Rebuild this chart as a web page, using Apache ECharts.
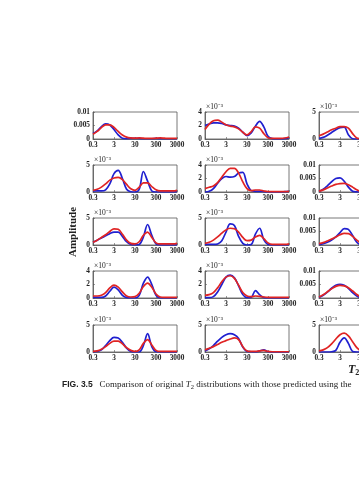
<!DOCTYPE html>
<html><head><meta charset="utf-8">
<script src="https://cdn.jsdelivr.net/npm/echarts@6/dist/echarts.min.js"></script>
<style>html,body{margin:0;padding:0;background:#fff}#c{width:359px;height:480px}</style>
</head><body><div id="c"></div>
<script>
// log10(T2/0.3) sample positions (0 -> 0.3 ms, 4 -> 3000 ms)
const uGrid = [0,0.2,0.4,0.6,0.8,1.0,1.2,1.4,1.6,1.8,2.0,2.2,2.4,2.6,2.8,3.0,3.2,3.4,3.6,3.8,4.0];
const xTickLabels = ['0.3','3','30','300','3000'];
// amplitudes in units of 1e-3
const r1c1Blue = [2.0,3.0,4.6,5.6,5.2,3.5,1.5,0.3,0.1,0.2,0.2,0.2,0.1,0.1,0.1,0.2,0.1,0.1,0.1,0.1,0.1];
const r1c1Red  = [1.8,2.8,4.2,5.2,5.2,4.3,2.8,1.5,0.7,0.4,0.3,0.4,0.3,0.2,0.2,0.3,0.4,0.3,0.2,0.2,0.2];
const r1c2Blue = [2.0,2.2,2.4,2.4,2.3,2.1,2.0,1.9,1.6,1.0,0.5,0.9,1.9,2.6,1.8,0.4,0.05,0,0,0.05,0.2];
const r1c2Red  = [1.4,2.2,2.7,2.8,2.5,2.1,1.9,1.8,1.5,1.0,0.6,1.1,1.8,1.6,0.8,0.2,0.1,0.1,0.1,0.15,0.3];
const r1c3Blue = [0.1,0.3,0.7,1.2,1.7,2.1,2.2,0.8,0.05,0,0,0,0,0,0,0,0,0,0,0,0];
const r1c3Red  = [0.6,0.9,1.3,1.7,2.0,2.3,2.3,2.0,1.0,0.2,0.05,0.05,0.05,0.05,0.05,0.05,0.05,0.05,0.05,0.05,0.05];
const r2c1Blue = [0.2,0.2,0.2,0.4,1.5,3.4,4.0,2.5,0.5,0.05,0,0.5,3.8,2.0,0.2,0,0,0,0,0,0.1];
const r2c1Red  = [0.3,0.5,0.9,1.5,2.2,2.6,2.7,2.3,1.4,0.6,0.3,0.9,1.7,1.7,1.0,0.4,0.2,0.2,0.2,0.2,0.3];
const r2c2Blue = [0,0.1,0.5,1.3,2.0,2.3,2.2,2.3,2.8,2.9,1.2,0.2,0.1,0.1,0.05,0,0,0,0,0.05,0.1];
const r2c2Red  = [0.5,0.7,0.9,1.4,2.2,3.0,3.5,3.5,2.8,1.5,0.5,0.2,0.3,0.3,0.15,0.05,0.05,0.05,0.05,0.05,0.1];
const r2c3Blue = [0.2,1.0,2.3,3.8,5.0,5.2,4.0,1.8,0.3,0.05,0,0,0,0,0,0,0,0,0,0,0];
const r2c3Red  = [0.3,0.8,1.5,2.2,2.8,3.1,3.2,2.7,1.8,0.8,0.2,0.05,0,0,0,0,0,0,0,0,0];
const r3c1Blue = [0.5,0.9,1.3,1.7,2.1,2.4,2.4,1.6,0.6,0.1,0,0.1,1.5,3.8,1.8,0.2,0,0,0,0,0.05];
const r3c1Red  = [0.5,0.9,1.4,1.9,2.5,3.0,2.9,2.0,0.9,0.3,0.2,0.6,1.8,2.4,1.4,0.4,0.2,0.2,0.2,0.2,0.3];
const r3c2Blue = [0.1,0.1,0.1,0.2,0.8,2.4,3.9,3.6,1.6,0.3,0,0.1,2.0,3.1,1.0,0.1,0,0,0,0,0.05];
const r3c2Red  = [0.3,0.5,0.9,1.5,2.2,2.8,3.1,3.0,2.4,1.4,0.8,0.9,1.5,1.8,1.2,0.4,0.1,0.1,0.1,0.1,0.2];
const r3c3Blue = [0.2,0.5,1.0,1.8,3.0,4.6,6.1,5.8,3.5,1.0,0.1,0,0,0,0,0,0,0,0,0,0];
const r3c3Red  = [0.5,0.9,1.5,2.2,3.0,3.8,4.3,4.2,3.2,1.8,0.7,0.2,0.05,0.05,0.05,0.05,0.05,0.05,0.05,0.05,0.05];
const r4c1Blue = [0.1,0.1,0.1,0.3,1.0,1.6,1.2,0.4,0.05,0,0,0.4,2.2,3.1,2.0,0.4,0,0,0,0,0];
const r4c1Red  = [0.3,0.3,0.4,0.8,1.5,1.9,1.6,0.9,0.3,0.15,0.2,0.7,1.7,2.2,1.6,0.6,0.15,0.1,0.1,0.1,0.1];
const r4c2Blue = [0.05,0.05,0.2,0.9,2.0,3.1,3.4,3.0,1.8,0.5,0.05,0.1,1.1,0.5,0.05,0,0,0,0,0,0];
const r4c2Red  = [0.4,0.5,0.8,1.5,2.4,3.1,3.3,2.9,1.9,0.8,0.3,0.2,0.3,0.25,0.15,0.1,0.1,0.1,0.1,0.1,0.1];
const r4c3Blue = [0.2,1.0,2.2,3.6,4.7,5.1,4.7,3.6,2.0,0.7,0.1,0,0,0,0,0,0,0,0,0,0];
const r4c3Red  = [0.4,1.2,2.3,3.4,4.3,4.7,4.5,3.8,2.6,1.3,0.4,0.1,0.05,0.05,0.05,0.05,0.05,0.05,0.05,0.05,0.05];
const r5c1Blue = [0.05,0.1,0.4,1.2,2.1,2.7,2.6,1.8,0.7,0.1,0,0,1.2,3.4,1.0,0.05,0,0,0,0,0];
const r5c1Red  = [0.1,0.2,0.5,1.0,1.6,2.0,2.0,1.5,0.8,0.3,0.1,0.4,1.6,2.3,1.3,0.3,0.1,0.1,0.1,0.1,0.1];
const r5c2Blue = [0.2,0.6,1.2,2.0,2.7,3.2,3.4,3.2,2.5,0.9,0.1,0.05,0,0.2,0.4,0.05,0,0,0,0,0];
const r5c2Red  = [0.4,0.7,1.0,1.4,1.8,2.1,2.4,2.6,2.3,1.0,0.2,0.1,0.1,0.2,0.3,0.1,0.05,0.05,0.05,0.05,0.05];
const r5c3Blue = [0,0,0,0.05,0.3,1.8,2.6,1.6,0.1,0,0,0,0,0,0,0,0,0,0,0,0];
const r5c3Red  = [0.2,0.4,0.8,1.5,2.4,3.2,3.5,3.0,1.9,0.8,0.2,0.05,0.05,0.05,0.05,0.05,0.05,0.05,0.05,0.05,0.05];
// y-axis type per panel: 'p01' = 0..0.01, 'e4' = 0..4e-3, 'e5' = 0..5e-3
const panelScales = [
  ['p01','e4','e5'],
  ['e5','e4','p01'],
  ['e5','e5','p01'],
  ['e4','e4','p01'],
  ['e5','e5','e5']
];
const blueData = [[r1c1Blue,r1c2Blue,r1c3Blue],[r2c1Blue,r2c2Blue,r2c3Blue],[r3c1Blue,r3c2Blue,r3c3Blue],[r4c1Blue,r4c2Blue,r4c3Blue],[r5c1Blue,r5c2Blue,r5c3Blue]];
const redData  = [[r1c1Red,r1c2Red,r1c3Red],[r2c1Red,r2c2Red,r2c3Red],[r3c1Red,r3c2Red,r3c3Red],[r4c1Red,r4c2Red,r4c3Red],[r5c1Red,r5c2Red,r5c3Red]];

const colLeft = [93, 205, 319];
const rowTop = [112, 165, 218, 271, 325];
const W = 84, H = 27;
const FONT = 'Liberation Serif';
const grid = [], xAxis = [], yAxis = [], series = [];
let k = 0;
for (let r = 0; r < 5; r++) {
  for (let c = 0; c < 3; c++) {
    grid.push({left: colLeft[c], top: rowTop[r], width: W, height: H, containLabel: false, outerBoundsMode: 'none',
      show: true, borderColor: '#555', borderWidth: 0.8, backgroundColor: '#fff'});
    xAxis.push({gridIndex: k, type: 'value', min: 0, max: 4, interval: 1,
      axisLine: {show: true, lineStyle: {color: '#555', width: 0.8}},
      axisTick: {show: true, inside: true, length: 2, lineStyle: {color: '#555', width: 0.6}},
      splitLine: {show: false},
      axisLabel: {margin: 3, color: '#222', fontFamily: FONT, fontWeight: 'bold', fontSize: 7.3, formatter: v => xTickLabels[Math.round(v)]}});
    const s = panelScales[r][c];
    const ya = {gridIndex: k, type: 'value', min: 0,
      max: s === 'p01' ? 10 : (s === 'e4' ? 4 : 5),
      interval: s === 'e4' ? 2 : 5,
      axisLine: {show: true, lineStyle: {color: '#555', width: 0.8}},
      axisTick: {show: true, inside: true, length: 2, lineStyle: {color: '#555', width: 0.6}},
      splitLine: {show: false},
      axisLabel: {margin: 3, color: '#222', fontFamily: FONT, fontWeight: 'bold', fontSize: 7.3,
        formatter: v => s === 'p01' ? (v === 0 ? '0' : (v === 5 ? '0.005' : '0.01')) : String(v)}};
    if (s !== 'p01') {
      ya.name = '×10⁻³';
      ya.nameLocation = 'end';
      ya.nameGap = 1;
      ya.nameTextStyle = {align: 'left', fontFamily: FONT, fontSize: 7.5, color: '#222', padding: [0,0,0,1]};
    }
    yAxis.push(ya);
    const mk = (arr, color) => ({type: 'line', xAxisIndex: k, yAxisIndex: k, smooth: 0.35, symbol: 'none',
      lineStyle: {color: color, width: 1.7}, data: uGrid.map((u, i) => [u, arr[i]]), silent: true, animation: false});
    series.push(mk(blueData[r][c], '#2020d0'));
    series.push(mk(redData[r][c], '#e02424'));
    k++;
  }
}
const chart = echarts.init(document.getElementById('c'), null, {renderer: 'canvas'});
chart.setOption({
  animation: false,
  backgroundColor: '#fff',
  grid, xAxis, yAxis, series,
  graphic: [
    {type: 'text', x: 73, y: 232, rotation: Math.PI / 2, style: {text: 'Amplitude', font: 'bold 11px "Liberation Serif"', fill: '#222', textAlign: 'center', textVerticalAlign: 'middle'}},
    {type: 'text', x: 348, y: 370, style: {text: '{t|T}{s|2}', rich: {t: {font: 'italic bold 12px "Liberation Serif"', fill: '#222'}, s: {font: 'bold 8px "Liberation Serif"', fill: '#222', padding: [6,0,0,0]}}, textVerticalAlign: 'middle'}},
    {type: 'text', x: 62, y: 385, style: {text: '{f|FIG. 3.5}{c|   Comparison of original }{i|T}{s|2}{c| distributions with those predicted using the}', rich: {
      f: {font: 'bold 8.5px "Liberation Sans"', fill: '#222'},
      c: {font: '9px "Liberation Serif"', fill: '#222'},
      i: {font: 'italic 9px "Liberation Serif"', fill: '#222'},
      s: {font: '6.5px "Liberation Serif"', fill: '#222', padding: [4,0,0,0]}
    }, textVerticalAlign: 'middle'}}
  ]
});
</script></body></html>
